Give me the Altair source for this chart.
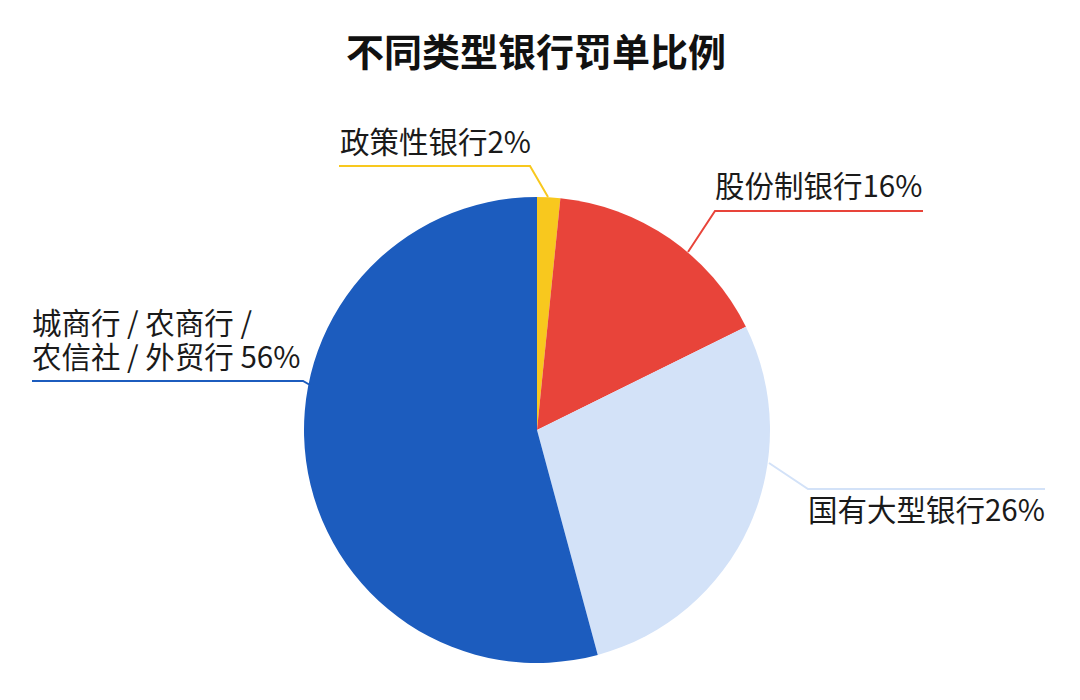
import altair as alt
import pandas as pd

# ---- data ----
categories = ["政策性银行", "股份制银行", "国有大型银行", "城商行/农商行/农信社/外贸行"]
shares = [1.6, 16.1, 28.1, 54.2]          # slice sizes as drawn (percent)
label_lines = [
    ["政策性银行2%"],
    ["股份制银行16%"],
    ["国有大型银行26%"],
    ["城商行 / 农商行 /", "农信社 / 外贸行 56%"],
]

# ---- styles ----
colors = ["#F8C81E", "#E8443A", "#D3E2F8", "#1C5CBE"]
FONT = "Noto Sans CJK SC"

# ---- layout (page pixel coordinates) ----
W, H = 1064, 684
PAD_TOP = 100
pie_center = (537, 430)
pie_radius = 233
label_x = [340, 715, 808, 32]
label_y = [144, 188, 512, 325]   # vertical centre of each label's first line
line_gap = 34
leader_pts = [
    [(339, 166), (530, 166), (548, 197)],
    [(923, 211), (715, 211), (688, 252)],
    [(1045, 489), (808, 489), (769, 463)],
    [(32, 381), (303, 381), (310, 385)],
]

pie_df = pd.DataFrame({"category": categories, "share": shares, "idx": range(len(categories))})

lead_rows = []
for cat, pts in zip(categories, leader_pts):
    for k, (px, py) in enumerate(pts):
        lead_rows.append({"category": cat, "px": px, "py": py, "k": k})
lead_df = pd.DataFrame(lead_rows)

lab_df = pd.DataFrame({
    "category": categories,
    "text": ["\n".join(lines) for lines in label_lines],
    "px": label_x,
    "py": label_y,
})

color_scale = alt.Scale(domain=categories, range=colors)
xs = alt.Scale(domain=[8, 8 + W], nice=False, zero=False)
ys = alt.Scale(domain=[8 + PAD_TOP, 8 + H], nice=False, zero=False, reverse=True)

pie = alt.Chart(pie_df).mark_arc(
    radius=pie_radius,
    x=pie_center[0] - 8,
    y=pie_center[1] - 8 - PAD_TOP,
).encode(
    theta=alt.Theta("share:Q", stack=True),
    order=alt.Order("idx:Q"),
    color=alt.Color("category:N", scale=color_scale, legend=None),
)

leaders = alt.Chart(lead_df).mark_line(strokeWidth=2).encode(
    x=alt.X("px:Q", scale=xs, axis=None),
    y=alt.Y("py:Q", scale=ys, axis=None),
    order=alt.Order("k:Q"),
    detail="category:N",
    color=alt.Color("category:N", scale=color_scale, legend=None),
)

labels = alt.Chart(lab_df).mark_text(
    align="left", baseline="middle", font=FONT, fontSize=29.5,
    lineBreak="\n", lineHeight=line_gap, color="#1a1a1a"
).encode(
    x=alt.X("px:Q", scale=xs, axis=None),
    y=alt.Y("py:Q", scale=ys, axis=None),
    text="text:N",
)

chart = alt.layer(pie, leaders, labels).properties(
    width=W,
    height=H - PAD_TOP,
    padding={"top": PAD_TOP, "left": 0, "right": 0, "bottom": 0},
    autosize=alt.AutoSizeParams(type="none"),
    title=alt.TitleParams(
        "不同类型银行罚单比例",
        font=FONT, fontSize=38, fontWeight="bold", color="#111111",
        anchor="middle", offset=34, dx=-4,
    ),
    background="white",
).configure_view(stroke=None)

chart.save("out.html", embed_options={"renderer": "svg", "actions": False})
